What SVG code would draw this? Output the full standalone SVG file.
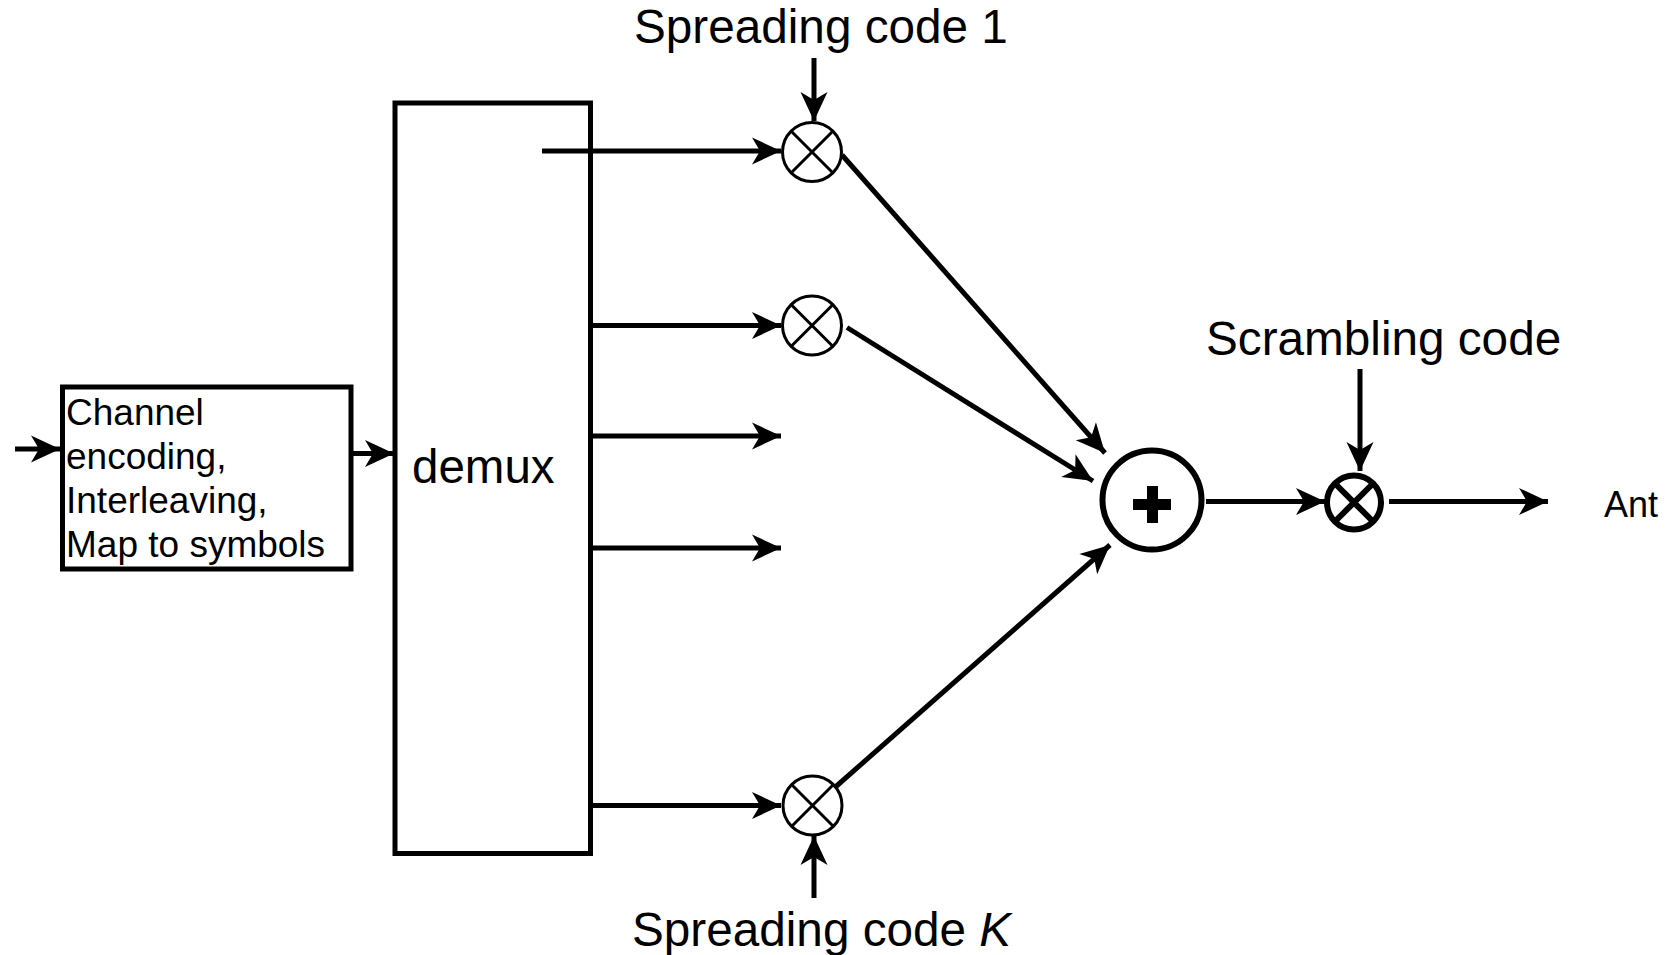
<svg xmlns="http://www.w3.org/2000/svg" width="1670" height="955" viewBox="0 0 1670 955">
<style>
.t{font-family:"Liberation Sans",Arial,sans-serif;fill:#000}
.lbl{font-size:47.7px}
.bx{font-size:37px}
.ln{stroke:#000;stroke-width:5;fill:none}
.box{stroke:#000;stroke-width:5;fill:#fff}
.mul{stroke:#000;stroke-width:3;fill:#fff}
.x{stroke:#000;stroke-width:3}
</style>
<defs>
<marker id="ah" markerUnits="userSpaceOnUse" markerWidth="32" markerHeight="30" viewBox="-30 -15 32 30" refX="0" refY="0" orient="auto">
<path d="M-29,-13.5 L0,0 L-29,13.5 L-21,0 Z" fill="#000"/>
</marker>
</defs>
<rect width="1670" height="955" fill="#fff"/>

<g id="connectors">
<line class="ln" x1="15" y1="449" x2="60" y2="449" marker-end="url(#ah)"/>
<line class="ln" x1="352" y1="453.5" x2="394" y2="453.5" marker-end="url(#ah)"/>
<line class="ln" x1="542" y1="151" x2="781" y2="151" marker-end="url(#ah)"/>
<line class="ln" x1="590" y1="325.5" x2="781" y2="325.5" marker-end="url(#ah)"/>
<line class="ln" x1="590" y1="436" x2="781" y2="436" marker-end="url(#ah)"/>
<line class="ln" x1="590" y1="548" x2="781" y2="548" marker-end="url(#ah)"/>
<line class="ln" x1="590" y1="805.5" x2="781" y2="805.5" marker-end="url(#ah)"/>
<line class="ln" x1="814" y1="58" x2="814" y2="121" marker-end="url(#ah)"/>
<line class="ln" x1="814" y1="898" x2="814" y2="836" marker-end="url(#ah)"/>
<line class="ln" x1="842" y1="155" x2="1105" y2="453" marker-end="url(#ah)"/>
<line class="ln" x1="847" y1="327.5" x2="1093" y2="481" marker-end="url(#ah)"/>
<line class="ln" x1="832" y1="790" x2="1110" y2="545" marker-end="url(#ah)"/>
<line class="ln" x1="1206" y1="501.5" x2="1325" y2="501.5" marker-end="url(#ah)"/>
<line class="ln" x1="1360" y1="369" x2="1360" y2="471" marker-end="url(#ah)"/>
<line class="ln" x1="1389" y1="501.5" x2="1548" y2="501.5" marker-end="url(#ah)"/>
</g>

<g id="encoder">
<rect class="box" x="62.5" y="387" width="288.5" height="182"/>
<text class="t bx" x="66" y="425">Channel</text>
<text class="t bx" x="66" y="469">encoding,</text>
<text class="t bx" x="66" y="513">Interleaving,</text>
<text class="t bx" x="66" y="557">Map to symbols</text>
</g>

<g id="demux">
<rect class="ln" x="395" y="103" width="195.5" height="750.5"/>
<text class="t" font-size="47.5" x="412" y="483">demux</text>
</g>

<g id="mul1">
<circle class="mul" cx="812" cy="152" r="29.5"/>
<line class="x" x1="791" y1="131" x2="833" y2="173"/>
<line class="x" x1="833" y1="131" x2="791" y2="173"/>
</g>
<g id="mul2">
<circle class="mul" cx="812" cy="325.5" r="29.5"/>
<line class="x" x1="791" y1="304.5" x2="833" y2="346.5"/>
<line class="x" x1="833" y1="304.5" x2="791" y2="346.5"/>
</g>
<g id="mulK">
<circle class="mul" cx="812.5" cy="805.5" r="29.5"/>
<line class="x" x1="791.5" y1="784.5" x2="833.5" y2="826.5"/>
<line class="x" x1="833.5" y1="784.5" x2="791.5" y2="826.5"/>
</g>

<g id="sum">
<circle cx="1152" cy="500" r="49.5" fill="#fff" stroke="#000" stroke-width="6"/>
<rect x="1133" y="499" width="38" height="11" fill="#000"/>
<rect x="1147" y="486" width="11" height="37" fill="#000"/>
</g>

<g id="scrambler">
<circle cx="1354" cy="502.5" r="27" fill="#fff" stroke="#000" stroke-width="6"/>
<line x1="1335" y1="483.5" x2="1373" y2="521.5" stroke="#000" stroke-width="6"/>
<line x1="1373" y1="483.5" x2="1335" y2="521.5" stroke="#000" stroke-width="6"/>
</g>

<g id="labels">
<text class="t lbl" x="634" y="43">Spreading code 1</text>
<text class="t lbl" x="632" y="946">Spreading code <tspan font-style="italic">K</tspan></text>
<text class="t lbl" x="1206" y="355">Scrambling code</text>
<text class="t" font-size="36" x="1604" y="517">Ant</text>
</g>
</svg>
